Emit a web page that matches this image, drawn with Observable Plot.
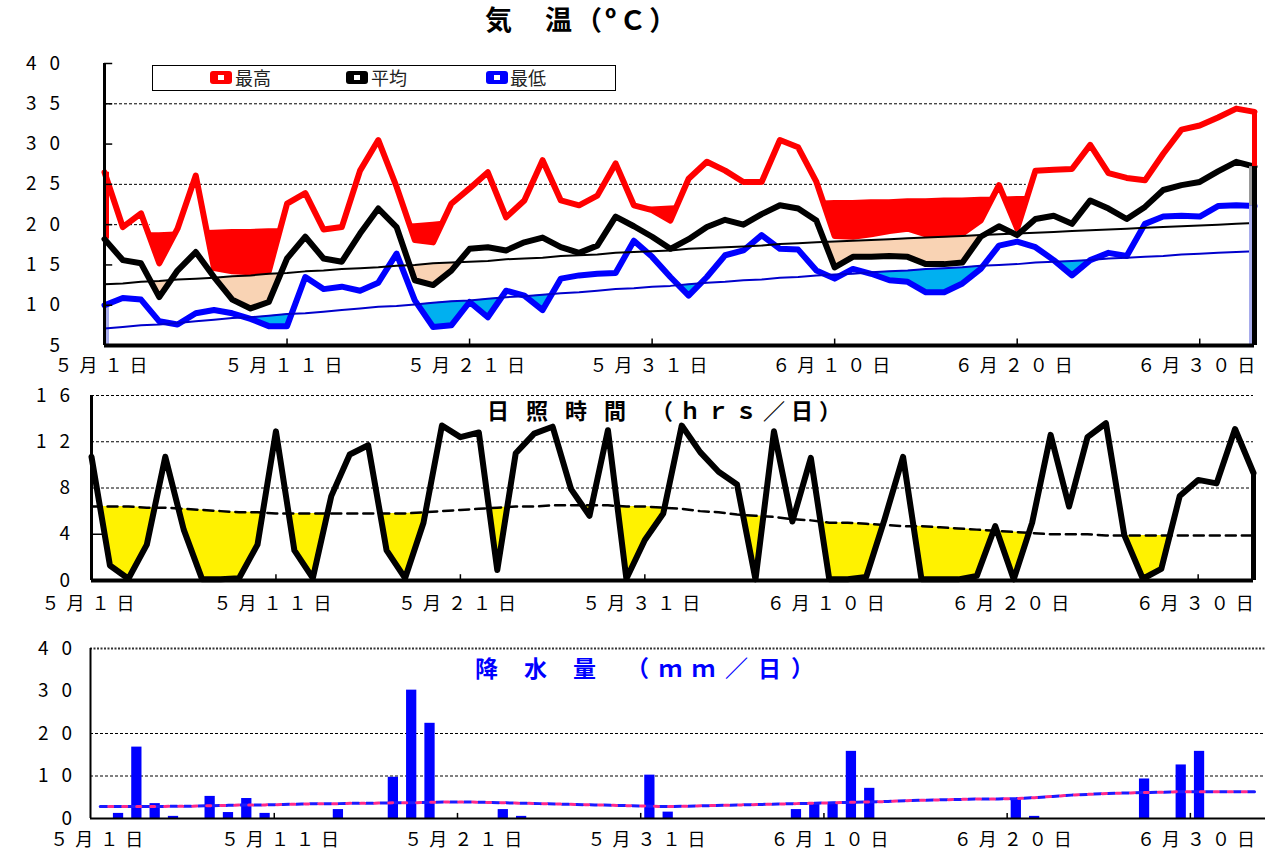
<!DOCTYPE html>
<html lang="ja"><head><meta charset="utf-8">
<script src="https://cdn.jsdelivr.net/npm/d3@7"></script>
<script src="https://cdn.jsdelivr.net/npm/@observablehq/plot@0.6"></script>
<style>
html,body{margin:0;padding:0;background:#fff;}
body{width:1265px;height:850px;position:relative;overflow:hidden;font-family:"Noto Sans CJK JP","Noto Sans",sans-serif;}
.panel{position:absolute;left:0;}
.panel svg{display:block;overflow:visible;max-width:none;}
.ttl{position:absolute;white-space:nowrap;font-weight:bold;line-height:1;font-feature-settings:"fwid" 1;}
.leg{position:absolute;left:152px;top:65px;width:464px;height:26px;border:1px solid #000;box-sizing:border-box;}
.sw{position:absolute;width:22px;height:13px;border-radius:3px;}
.sw::after{content:"";position:absolute;left:8px;top:4px;width:6px;height:5px;background:#fff;}
.lt{position:absolute;font-size:18px;line-height:1;color:#222;white-space:nowrap;}
</style></head><body>
<div class="ttl" style="left:485px;top:5px;font-size:27px;letter-spacing:3px;">気　温(ºC)</div>
<div class="leg"></div>
<div class="sw" style="left:210px;top:71px;background:#ff0000"></div><div class="lt" style="left:235px;top:68px">最高</div>
<div class="sw" style="left:346px;top:71px;background:#000000"></div><div class="lt" style="left:371px;top:68px">平均</div>
<div class="sw" style="left:486px;top:71px;background:#0000ff"></div><div class="lt" style="left:510px;top:68px">最低</div>
<div class="ttl" style="left:487px;top:398px;font-size:22px;z-index:2"><span style="letter-spacing:17px">日照時間</span><span style="letter-spacing:6px;margin-left:8px">(hrs/日)</span></div>
<div class="ttl" style="left:475px;top:656px;font-size:23px;color:#0000ff;z-index:2"><span style="letter-spacing:26px">降水量</span><span style="letter-spacing:10px;margin-left:4px">(mm/日)</span></div>
<script>
// ---- categories: day index 0 = 5月1日 ... 63 = 7月3日
const dayIndex = d3.range(64);
const xTicks = [0, 10, 20, 30, 40, 50, 60];
const xLabels = ["5月1日", "5月11日", "5月21日", "5月31日", "6月10日", "6月20日", "6月30日"];
const tempTicks = [5, 10, 15, 20, 25, 30, 35, 40];
const sunTicks = [0, 4, 8, 12, 16];
const rainTicks = [0, 10, 20, 30, 40];

// ---- temperature (°C)
const maxTemp = [26.5,19.7,21.4,15.2,19.5,26.1,14.6,14.2,14.1,14.2,
  22.6,23.9,19.4,19.7,26.7,30.5,24.7,18.1,17.8,22.6,
  24.5,26.5,20.9,23.0,28.0,23.0,22.4,23.6,27.6,22.4,
  21.8,20.5,25.7,27.8,26.7,25.3,25.3,30.5,29.6,25.3,
  18.6,18.5,18.8,19.2,19.5,18.8,18.8,18.9,20.5,24.9,
  19.5,26.7,26.8,26.9,29.9,26.4,25.8,25.5,28.8,31.8,
  32.3,33.3,34.4,34.0];
const meanTemp = [18.2,15.6,15.2,11.0,14.3,16.6,13.5,10.7,9.6,10.4,
  15.8,18.5,15.8,15.4,18.9,22.0,19.7,13.1,12.5,14.3,
  17.0,17.2,16.8,17.8,18.4,17.2,16.5,17.4,21.0,19.8,
  18.5,17.0,18.2,19.7,20.6,20.0,21.3,22.4,22.0,20.5,
  14.7,16.0,16.0,16.1,16.0,15.1,15.1,15.3,18.5,19.8,
  18.7,20.7,21.1,20.1,23.0,22.0,20.7,22.2,24.3,24.9,
  25.3,26.6,27.8,27.2];
const minTemp = [10.0,10.9,10.7,8.0,7.6,9.0,9.4,9.0,8.3,7.4,
  7.4,13.5,12.0,12.3,11.8,12.8,16.4,10.6,7.3,7.5,
  10.4,8.5,11.8,11.2,9.4,13.3,13.7,13.9,14.0,18.0,
  16.0,13.5,11.2,13.5,16.2,16.8,18.7,17.0,16.9,14.3,
  13.3,14.5,13.9,13.1,12.9,11.6,11.6,12.7,14.5,17.4,
  17.9,17.2,15.6,13.7,15.6,16.5,16.1,20.1,21.0,21.1,
  21.0,22.3,22.4,22.3];
const normalMax = [18.8,18.9,19.0,19.0,19.1,19.2,19.3,19.4,19.4,19.5,
  19.5,19.6,19.6,19.7,19.8,19.9,20.0,20.1,20.3,20.5,
  20.7,20.8,21.0,21.1,21.3,21.4,21.6,21.7,21.9,22.0,
  22.2,22.3,22.4,22.5,22.6,22.6,22.7,22.8,22.9,22.9,
  23.0,23.0,23.1,23.1,23.2,23.2,23.3,23.3,23.4,23.4,
  23.5,23.5,23.6,23.7,23.8,23.9,24.0,24.1,24.2,24.3,
  24.4,24.5,24.6,24.7];
const normalMean = [12.6,12.7,12.9,13.0,13.2,13.3,13.4,13.6,13.7,13.9,
  14.0,14.2,14.3,14.5,14.6,14.7,14.9,15.0,15.2,15.3,
  15.4,15.5,15.7,15.8,15.9,16.1,16.2,16.3,16.5,16.6,
  16.7,16.8,17.0,17.1,17.2,17.3,17.4,17.6,17.7,17.8,
  17.9,18.0,18.1,18.2,18.3,18.4,18.5,18.6,18.7,18.8,
  18.9,19.0,19.1,19.2,19.3,19.4,19.5,19.6,19.7,19.8,
  19.9,20.0,20.1,20.2];
const normalMin = [7.1,7.3,7.5,7.6,7.8,8.0,8.2,8.4,8.5,8.7,
  8.9,9.0,9.2,9.4,9.6,9.8,9.9,10.1,10.3,10.5,
  10.6,10.8,11.0,11.1,11.3,11.5,11.6,11.8,12.0,12.1,
  12.3,12.4,12.6,12.8,12.9,13.1,13.2,13.4,13.5,13.7,
  13.8,13.9,14.1,14.2,14.3,14.5,14.6,14.7,14.9,15.0,
  15.1,15.3,15.4,15.5,15.6,15.8,15.9,16.0,16.1,16.3,
  16.4,16.5,16.6,16.7];

// ---- sunshine (hrs/day)
const sunshine = [10.7,1.3,0.15,3.1,10.7,4.4,0.1,0.1,0.2,3.1,
  12.9,2.6,0.2,7.3,10.9,11.7,2.6,0.2,5.0,13.4,
  12.4,12.8,0.9,11.0,12.7,13.3,7.9,5.6,13.0,0.15,
  3.5,5.8,13.4,11.1,9.4,8.3,0.1,12.9,5.1,10.6,
  0.1,0.1,0.3,5.3,10.7,0.1,0.1,0.1,0.4,4.7,
  0.1,5.0,12.6,6.4,12.4,13.6,3.9,0.15,1.0,7.3,
  8.7,8.4,13.1,9.3];
const normalSun = [6.4,6.4,6.4,6.3,6.3,6.2,6.1,6.0,5.9,5.9,
  5.8,5.8,5.8,5.8,5.8,5.8,5.8,5.8,5.9,6.0,
  6.1,6.2,6.3,6.4,6.4,6.5,6.5,6.5,6.5,6.4,
  6.4,6.3,6.2,6.0,5.9,5.7,5.6,5.5,5.3,5.2,
  5.0,5.0,4.9,4.8,4.7,4.7,4.6,4.5,4.4,4.3,
  4.2,4.1,4.0,4.0,4.0,3.9,3.9,3.9,3.9,3.9,
  3.9,3.9,3.9,3.9];

// ---- precipitation (mm/day)
const precip = [0,1.2,16.8,3.5,0.5,0,5.2,1.4,4.7,1.2,
  0,0,0,2.1,0,0,9.7,30.2,22.4,0,
  0,0,2.1,0.5,0,0,0,0,0,0,
  10.2,1.5,0,0,0,0,0,0,2.1,3.6,
  3.8,15.8,7.1,0,0,0,0,0,0,0,
  4.6,0.5,0,0,0,0,0,9.3,0,12.6,
  15.8,0,0,0];
const normalPrecip = [2.8,2.8,2.8,2.8,2.9,2.9,3.0,3.1,3.2,3.2,
  3.3,3.4,3.5,3.5,3.6,3.6,3.7,3.7,3.8,3.9,
  3.9,3.8,3.7,3.6,3.5,3.4,3.3,3.2,3.1,3.0,
  2.9,2.8,2.9,3.0,3.1,3.2,3.3,3.4,3.5,3.6,
  3.7,3.8,3.9,4.0,4.2,4.3,4.4,4.5,4.6,4.6,
  4.7,4.9,5.2,5.5,5.7,5.9,6.0,6.1,6.2,6.3,
  6.3,6.3,6.3,6.3];

const T = dayIndex.map(i => ({d: i, max: maxTemp[i], mean: meanTemp[i], min: minTemp[i],
  nmax: normalMax[i], nmean: normalMean[i], nmin: normalMin[i]}));
const S = dayIndex.map(i => ({d: i, s: sunshine[i], n: normalSun[i]}));
const P = dayIndex.map(i => ({d: i, p: precip[i], n: normalPrecip[i]}));
const firstT = [T[0]];
const lastT = [T[T.length - 1]];
const lastS = [S[S.length - 1]];

// band between a series and its normal, only where the series is below the normal;
// the points where the two lines cross are added so the band closes exactly there
function belowBand(data, a, n) {
  const out = [];
  for (let i = 0; i < data.length; i++) {
    const p = data[i];
    out.push({x: p.d, lo: p[a], hi: Math.max(p[a], p[n])});
    if (i < data.length - 1) {
      const q = data[i + 1];
      const d0 = p[a] - p[n], d1 = q[a] - q[n];
      if (d0 * d1 < 0) {
        const t = d0 / (d0 - d1);
        const v = p[a] + t * (q[a] - p[a]);
        out.push({x: p.d + t, lo: v, hi: v});
      }
    }
  }
  return out;
}

const STYLE = 'font-family:"Noto Sans CJK JP",sans-serif;font-size:18px;color:#000;background:transparent;overflow:visible;max-width:none;';
const grid = {stroke: "#000", strokeWidth: 1, strokeDasharray: "3,2"};
const fmtX = d => xLabels[xTicks.indexOf(d)];

// tick labels as text marks (x labels centred under the ticks, y labels right-aligned)
function xLabelMark(yBase, dy) {
  return Plot.text(xTicks, {x: d => d, y: yBase, text: fmtX, dy, fontSize: 18, fill: "#000"});
}
function yLabelMark(ticks, xBase) {
  return Plot.text(ticks, {x: xBase, y: d => d, text: d => String(d), dx: -20, textAnchor: "end", fontSize: 19, fill: "#000"});
}

// labelRight: page x where the right edge of the y tick labels should sit
function place(svg, top, yTicks, labelRight) {
  const div = document.createElement("div");
  div.className = "panel";
  div.style.top = top + "px";
  div.appendChild(svg);
  document.body.appendChild(div);
  const yStr = yTicks.map(String);
  d3.select(svg).selectAll("text")
    .filter(function() { return xLabels.includes(this.textContent); })
    .style("letter-spacing", "7px").style("font-feature-settings", '"fwid" 1');
  d3.select(svg).selectAll("text")
    .filter(function() { return yStr.includes(this.textContent); })
    .each(function() {
      if (this.textContent.length > 1) {
        this.setAttribute("textLength", 34);
        this.setAttribute("lengthAdjust", "spacing");
      }
      const r = this.getBoundingClientRect();
      const delta = r.right - labelRight;
      const t = this.getAttribute("transform") || "";
      this.setAttribute("transform", (t + " translate(" + (-delta) + ",0)").trim());
    });
}

// ---------------- temperature panel ----------------
const tempPlot = Plot.plot({
  width: 1265, height: 375,
  marginTop: 63, marginBottom: 30, marginLeft: 104, marginRight: 11,
  style: STYLE,
  x: {domain: [0, 63], axis: null, label: null},
  y: {domain: [5, 40], axis: null, label: null},
  marks: [
    Plot.ruleY([35], grid),
    Plot.ruleY([25], {...grid, x1: 0, x2: 50.5}),
    Plot.ruleY([20], {...grid, x1: 0, x2: 2.5}),
    Plot.areaY(belowBand(T, "max", "nmax"), {x: "x", y1: "lo", y2: "hi", fill: "#ff0000"}),
    Plot.areaY(belowBand(T, "mean", "nmean"), {x: "x", y1: "lo", y2: "hi", fill: "#f9d3b4"}),
    Plot.areaY(belowBand(T, "min", "nmin"), {x: "x", y1: "lo", y2: "hi", fill: "#00b0f0"}),
    Plot.ruleX(firstT, {x: "d", dx: 3, y1: "mean", y2: "max", stroke: "#ff0000", strokeWidth: 3}),
    Plot.ruleX(firstT, {x: "d", dx: 3, y1: 5, y2: "min", stroke: "#a8acec", strokeWidth: 3}),
    Plot.line(T, {x: "d", y: "max", stroke: "#ff0000", strokeWidth: 6}),
    Plot.line(T, {x: "d", y: "mean", stroke: "#000000", strokeWidth: 6}),
    Plot.line(T, {x: "d", y: "min", stroke: "#0000ff", strokeWidth: 6}),
    Plot.line(T, {x: "d", y: "nmean", stroke: "#000000", strokeWidth: 2}),
    Plot.line(T, {x: "d", y: "nmin", stroke: "#0000cc", strokeWidth: 2}),
    Plot.ruleX(lastT, {x: "d", y1: "mean", y2: "max", stroke: "#ff0000", strokeWidth: 5}),
    Plot.ruleX(lastT, {x: "d", y1: 5, y2: "mean", stroke: "#000", strokeWidth: 5}),
    Plot.ruleX(lastT, {x: "d", dx: -4, y1: "min", y2: "mean", stroke: "#999", strokeWidth: 3}),
    Plot.ruleX(lastT, {x: "d", dx: -4, y1: 5, y2: "min", stroke: "#a8acec", strokeWidth: 3}),
    Plot.ruleX(xTicks.slice(1), {y1: 5, y2: 5.8, stroke: "#000", strokeWidth: 1.5}),
    Plot.ruleY(tempTicks, {x1: 0, x2: 0.45, stroke: "#000", strokeWidth: 1.5}),
    Plot.ruleX([0], {stroke: "#000", strokeWidth: 3}),
    Plot.ruleY([5], {stroke: "#000", strokeWidth: 4}),
    yLabelMark(tempTicks, 0),
    xLabelMark(5, 21)
  ]
});
place(tempPlot, 0, tempTicks, 60);

// ---------------- sunshine panel ----------------
const sunPlot = Plot.plot({
  width: 1265, height: 240,
  marginTop: 15, marginBottom: 40, marginLeft: 91, marginRight: 12,
  style: STYLE,
  x: {domain: [0, 63], axis: null, label: null},
  y: {domain: [0, 16], axis: null, label: null},
  marks: [
    Plot.ruleY([16, 12, 8], grid),
    Plot.areaY(belowBand(S, "s", "n"), {x: "x", y1: "lo", y2: "hi", fill: "#fff200"}),
    Plot.line(S, {x: "d", y: "n", stroke: "#000", strokeWidth: 2.5, strokeDasharray: "10,6"}),
    Plot.line(S, {x: "d", y: "s", stroke: "#000", strokeWidth: 6}),
    Plot.ruleX(lastS, {x: "d", y1: 0, y2: "s", stroke: "#000", strokeWidth: 5}),
    Plot.ruleX(xTicks.slice(1), {y1: 0, y2: 0.5, stroke: "#000", strokeWidth: 1.5}),
    Plot.ruleY([4], {x1: 0, x2: 0.6, stroke: "#000", strokeWidth: 1.5}),
    Plot.ruleX([0], {stroke: "#000", strokeWidth: 3}),
    Plot.ruleY([0], {stroke: "#000", strokeWidth: 4}),
    yLabelMark(sunTicks, 0),
    xLabelMark(0, 24)
  ]
});
place(sunPlot, 380, sunTicks, 70);

// ---------------- precipitation panel ----------------
const rainPlot = Plot.plot({
  width: 1265, height: 220,
  marginTop: 18, marginBottom: 32, marginLeft: 90, marginRight: 0,
  style: STYLE,
  x: {domain: [-0.53, 63.6], axis: null, label: null},
  y: {domain: [0, 40], axis: null, label: null},
  marks: [
    Plot.ruleY([40], {stroke: "#333", strokeWidth: 2, strokeDasharray: "2,1.5"}),
    Plot.ruleY([20, 10], grid),
    Plot.rectY(P.filter(d => d.p > 0), {x1: d => d.d - 0.28, x2: d => d.d + 0.28, y1: 0, y2: "p", fill: "#0000ff"}),
    Plot.line(P, {x: "d", y: "n", stroke: "#1a1aff", strokeWidth: 3, strokeDasharray: "7,7"}),
    Plot.line(P, {x: "d", y: "n", stroke: "#ff2a8a", strokeWidth: 3, strokeDasharray: "4,10", strokeDashoffset: -8.5}),
    Plot.ruleX(xTicks.slice(1).map(d => d - 0.5), {y1: 0, y2: 1.2, stroke: "#000", strokeWidth: 1.5}),
    Plot.ruleX([-0.53], {stroke: "#000", strokeWidth: 2}),
    Plot.ruleY([0], {stroke: "#000", strokeWidth: 2}),
    yLabelMark(rainTicks, -0.53),
    xLabelMark(0, 22)
  ]
});
place(rainPlot, 630, rainTicks, 72);
</script>
</body></html>
